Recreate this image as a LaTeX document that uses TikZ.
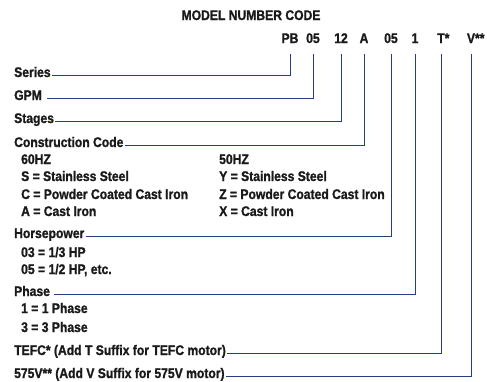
\documentclass[tikz,border=0pt]{standalone}
\usepackage{fontspec}
\setmainfont{Liberation Sans}[FakeStretch=0.87, BoldFeatures={FakeBold=1.2}]
\usepackage{tikz}
\usetikzlibrary{positioning}
\definecolor{mline}{HTML}{22407F}
\definecolor{mtext}{HTML}{1A1A1A}
\tikzset{
  mlbl/.style={anchor=base west, inner sep=1pt, text=mtext,
               font=\bfseries\fontsize{14}{16}\selectfont},
  msub/.style={mlbl},
  mcode/.style={anchor=base, inner xsep=0pt, inner ysep=11bp, text=mtext,
                font=\bfseries\fontsize{14}{16}\selectfont},
  mlink/.style={mline, line width=0.9pt},
}

\begin{document}
\begin{tikzpicture}[x=1bp, y=-1bp]
  \useasboundingbox (0,0) rectangle (487,381);

  % titulo
  \node[mlbl, anchor=base] (title) at (251,20) {MODEL NUMBER CODE};

  % codigo
  \node[mcode] (cPB)  at (290,43) {PB};
  \node[mcode] (cGPM) at (313,43) {05};
  \node[mcode] (cSTG) at (341,43) {12};
  \node[mcode] (cCON) at (364,43) {A};
  \node[mcode] (cHP)  at (391,43) {05};
  \node[mcode] (cPH)  at (415,43) {1};
  \node[mcode] (cTE)  at (441,43) {T\rlap{*}};
  \node[mcode] (cVV)  at (471,43) {V\rlap{**}};

  % rotulos
  \node[mlbl] (lSeries) at (13,77)  {Series};
  \node[mlbl] (lGPM)    at (13,100) {GPM};
  \node[mlbl] (lStages) at (13,123) {Stages};
  \node[mlbl] (lCon)    at (13,147) {Construction Code};
  \node[mlbl] (lHP)     at (13,238) {Horsepower};
  \node[mlbl] (lPhase)  at (13,296) {Phase};
  \node[mlbl] (lTEFC)   at (13,355) {TEFC* (Add T Suffix for TEFC motor)};
  \node[mlbl] (lVolt)   at (13,378) {575V** (Add V Suffix for 575V motor)};

  % opcoes
  \node[msub] (o60)  at (20,164) {60HZ};
  \node[msub] (oS)   at (20,181) {S = Stainless Steel};
  \node[msub] (oC)   at (20,199) {C = Powder Coated Cast Iron};
  \node[msub] (oA)   at (20,216) {A = Cast Iron};
  \node[msub] (o50)  at (218,164) {50HZ};
  \node[msub] (oY)   at (218,181) {Y = Stainless Steel};
  \node[msub] (oZ)   at (218,199) {Z = Powder Coated Cast Iron};
  \node[msub] (oX)   at (218,216) {X = Cast Iron};
  \node[msub] (o03)  at (20,257) {03 = 1/3 HP};
  \node[msub] (o05)  at (20,274) {05 = 1/2 HP, etc.};
  \node[msub] (o1)   at (20,313) {1 = 1 Phase};
  \node[msub] (o3)   at (20,332) {3 = 3 Phase};

  % ligacoes
  \draw[mlink] ([yshift=1.5pt]lSeries.base east) -| (cPB.south);
  \draw[mlink] ([xshift=4pt,yshift=1.5pt]lGPM.base east) -| (cGPM.south);
  \draw[mlink] ([yshift=1.5pt]lStages.base east) -| (cSTG.south);
  \draw[mlink] ([yshift=1.5pt]lCon.base east) -| (cCON.south);
  \draw[mlink] ([yshift=1.5pt]lHP.base east) -| (cHP.south);
  \draw[mlink] ([xshift=3pt,yshift=1.5pt]lPhase.base east) -| (cPH.south);
  \draw[mlink] ([yshift=1.5pt]lTEFC.base east) -| (cTE.south);
  \draw[mlink] ([yshift=1.5pt]lVolt.base east) -| (cVV.south);

\end{tikzpicture}
\end{document}
